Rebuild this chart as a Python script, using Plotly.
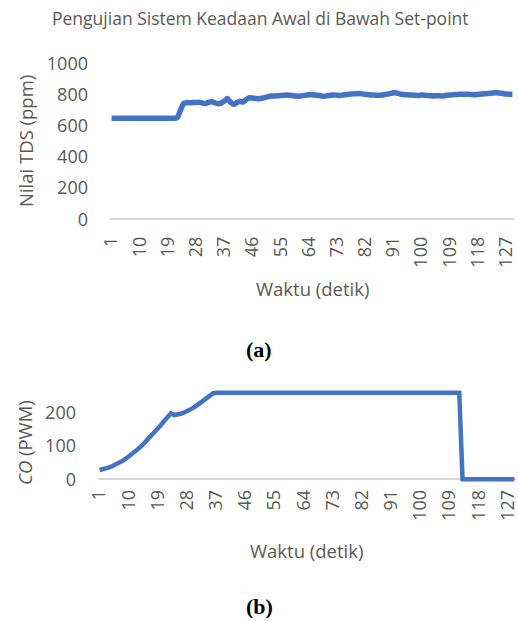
import plotly.graph_objects as go

W, H = 518, 621

waktu = list(range(1, 130))
tick_vals = [1, 10, 19, 28, 37, 46, 55, 64, 73, 82, 91, 100, 109, 118, 127]
tick_text = [str(v) for v in tick_vals]

tds = [648, 648, 648, 648, 648, 648, 648, 648, 648, 648,
       648, 648, 648, 648, 648, 648, 648, 648, 648, 648,
       648, 652, 700, 742, 748, 747, 749, 748, 751, 745,
       742, 750, 753, 747, 741, 745, 758, 774, 750, 736,
       749, 757, 752, 768, 779, 777, 775, 773, 776, 781,
       786, 791, 790, 792, 794, 795, 796, 795, 792, 790,
       789, 793, 796, 798, 799, 797, 794, 791, 789, 792,
       795, 797, 796, 794, 797, 800, 802, 804, 805, 806,
       804, 801, 799, 797, 796, 795, 795, 798, 802, 807,
       811, 810, 804, 800, 799, 797, 796, 795, 794, 796,
       795, 793, 792, 791, 792, 791, 791, 795, 797, 799,
       800, 801, 802, 802, 801, 800, 799, 801, 803, 805,
       806, 808, 810, 812, 809, 806, 803, 802, 802]

co = [28, 30, 33, 36, 40, 44, 49, 55, 61, 68,
      76, 84, 92, 101, 111, 121, 131, 142, 153, 164,
      176, 188, 198, 193, 194, 197, 200, 204, 209, 215,
      222, 229, 236, 243, 251, 258, 260, 260, 260, 260,
      260, 260, 260, 260, 260, 260, 260, 260, 260, 260,
      260, 260, 260, 260, 260, 260, 260, 260, 260, 260,
      260, 260, 260, 260, 260, 260, 260, 260, 260, 260,
      260, 260, 260, 260, 260, 260, 260, 260, 260, 260,
      260, 260, 260, 260, 260, 260, 260, 260, 260, 260,
      260, 260, 260, 260, 260, 260, 260, 260, 260, 260,
      260, 260, 260, 260, 260, 260, 260, 260, 260, 260,
      260, 260, 0, 0, 0, 0, 0, 0, 0, 0,
      0, 0, 0, 0, 0, 0, 0, 0, 0]

GRAY = "#595959"
BLUE = "#4472C4"
FONT = "Open Sans"
TICK = 18
ATITLE = 18.5


def px_x(x):
    return x / W


def px_y(y):
    return 1 - y / H


fig = go.Figure()
fig.add_trace(go.Scatter(x=waktu, y=tds, mode="lines", xaxis="x", yaxis="y",
                         line=dict(color=BLUE, width=5.5, shape="spline", smoothing=0.6),
                         showlegend=False))
fig.add_trace(go.Scatter(x=waktu, y=co, mode="lines", xaxis="x2", yaxis="y2",
                         line=dict(color=BLUE, width=4.5), showlegend=False))

# top chart: 0 at y=219.3, 1000 at y=63.3
t0, t1000 = 219.3, 63.3
tppu = (t0 - t1000) / 1000
tlo, thi = -12, 1000
# bottom chart: 0 at y=479.3, 100 per 33.3 px
b0 = 479.3
bppu = 0.333
blo, bhi = -12, 300

axis_common = dict(showgrid=False, tickfont=dict(family=FONT, size=TICK, color=GRAY),
                   fixedrange=True, automargin=False, ticklabeloverflow="allow")

fig.update_layout(
    template="none",
    width=W, height=H,
    margin=dict(l=0, r=0, t=0, b=0, pad=0),
    paper_bgcolor="white", plot_bgcolor="white",
    xaxis=dict(domain=[px_x(110), px_x(514)], range=[0.5, 129.5],
               tickvals=tick_vals, ticktext=tick_text, tickangle=-90,
               ticks="", ticklabelstandoff=11, zeroline=False, showline=False,
               anchor="y", **axis_common),
    yaxis=dict(domain=[px_y(t0 - tlo * tppu), px_y(t0 - thi * tppu)],
               range=[tlo, thi], tickvals=[0, 200, 400, 600, 800, 1000],
               ticks="", zeroline=True, zerolinecolor="#d9d9d9", zerolinewidth=2,
               showline=False, ticklabelstandoff=21, anchor="x", **axis_common),
    xaxis2=dict(domain=[px_x(98), px_x(516)], range=[0.5, 129.5],
                tickvals=tick_vals, ticktext=tick_text, tickangle=-90,
                ticks="", ticklabelstandoff=2, zeroline=False, showline=False,
                anchor="y2", **axis_common),
    yaxis2=dict(domain=[px_y(b0 - blo * bppu), px_y(b0 - bhi * bppu)],
                range=[blo, bhi], tickvals=[0, 100, 200],
                ticks="", zeroline=True, zerolinecolor="#d9d9d9", zerolinewidth=2,
                showline=False, ticklabelstandoff=21, anchor="x2", **axis_common),
)

annots = [
    dict(text="Pengujian Sistem Keadaan Awal di Bawah Set-point", x=260, y=18,
         font=dict(family=FONT, size=17.5, color=GRAY)),
    dict(text="Nilai TDS (ppm)", x=25, y=141, textangle=-90,
         font=dict(family=FONT, size=ATITLE, color=GRAY)),
    dict(text="Waktu (detik)", x=312, y=288,
         font=dict(family=FONT, size=ATITLE, color=GRAY)),
    dict(text="<b>(a)</b>", x=259, y=350,
         font=dict(family="Liberation Serif", size=22, color="black")),
    dict(text="<i>CO</i> (PWM)", x=25, y=443, textangle=-90,
         font=dict(family=FONT, size=ATITLE, color=GRAY)),
    dict(text="Waktu (detik)", x=306, y=550,
         font=dict(family=FONT, size=ATITLE, color=GRAY)),
    dict(text="<b>(b)</b>", x=259, y=606,
         font=dict(family="Liberation Serif", size=22, color="black")),
]
for a in annots:
    fig.add_annotation(text=a["text"], x=px_x(a["x"]), y=px_y(a["y"]),
                       xref="paper", yref="paper", xanchor="center", yanchor="middle",
                       showarrow=False, textangle=a.get("textangle", 0), font=a["font"])

fig.write_html("out.html")
